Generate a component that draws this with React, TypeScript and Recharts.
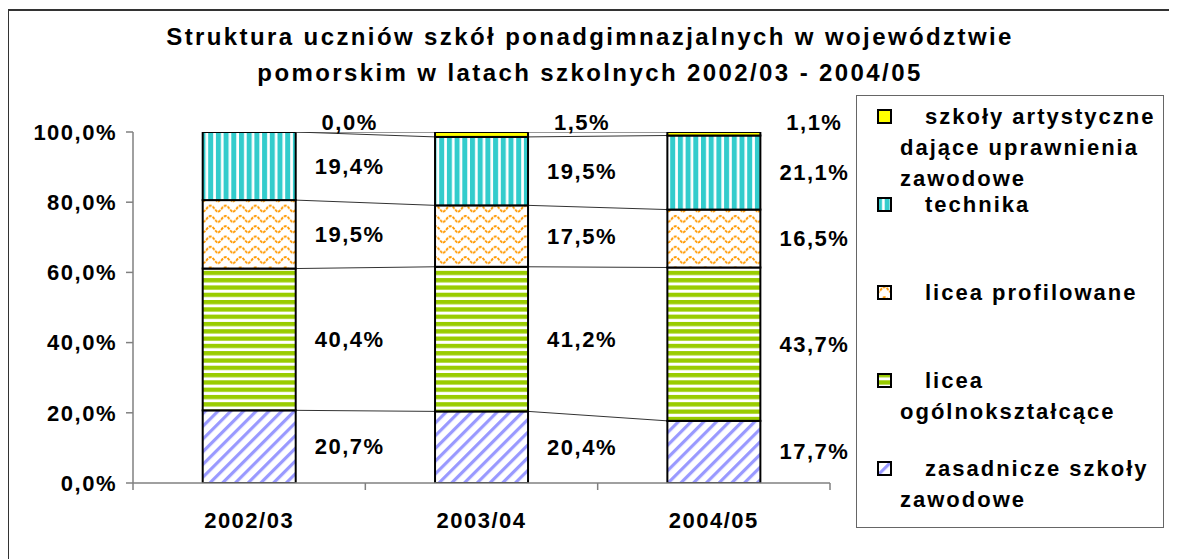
import { Bar, BarChart, LabelList, XAxis, YAxis } from 'recharts';

const YEARS = ['2002/03', '2003/04', '2004/05'];
const ZASADNICZE = [20.7, 20.4, 17.7];
const OGOLNOKSZTALCACE = [40.4, 41.2, 43.7];
const PROFILOWANE = [19.5, 17.5, 16.5];
const TECHNIKA = [19.4, 19.5, 21.1];
const ARTYSTYCZNE = [0.0, 1.5, 1.1];
const Y_TICKS = [0, 20, 40, 60, 80, 100];

const TITLE_LINES = [
  'Struktura uczniów szkół ponadgimnazjalnych w województwie',
  'pomorskim w latach szkolnych 2002/03 - 2004/05',
];

// stacking order, bottom to top; legend lines as wrapped in the original
const SERIES = [
  { key: 'zas', lines: ['zasadnicze szkoły', 'zawodowe'], values: ZASADNICZE, fill: 'url(#pt-zas)' },
  { key: 'ogol', lines: ['licea', 'ogólnokształcące'], values: OGOLNOKSZTALCACE, fill: 'url(#pt-ogol)' },
  { key: 'prof', lines: ['licea profilowane'], values: PROFILOWANE, fill: 'url(#pt-prof)' },
  { key: 'tech', lines: ['technika'], values: TECHNIKA, fill: 'url(#pt-tech)' },
  { key: 'art', lines: ['szkoły artystyczne', 'dające uprawnienia', 'zawodowe'], values: ARTYSTYCZNE, fill: '#ffff00' },
];

const data = YEARS.map((year, i) => {
  const row: Record<string, string | number> = { year };
  SERIES.forEach((s) => (row[s.key] = s.values[i]));
  return row;
});

const cumulative = (k: number, i: number) =>
  SERIES.slice(0, k + 1).reduce((sum, s) => sum + s.values[i], 0);

const FONT = "'Liberation Sans', Arial, sans-serif";
const fmt = (v: number) => v.toFixed(1).replace('.', ',') + '%';

function Patterns() {
  return (
    <svg width={0} height={0} style={{ position: 'absolute' }}>
      <defs>
        <pattern id="pt-zas" width={9} height={9} patternUnits="userSpaceOnUse" patternTransform="rotate(45)">
          <rect width={9} height={9} fill="#fff" />
          <rect width={3.2} height={9} fill="#9999ff" />
        </pattern>
        <pattern id="pt-ogol" width={8} height={7.3} patternUnits="userSpaceOnUse">
          <rect width={8} height={7.3} fill="#fff" />
          <rect width={8} height={4.3} fill="#99cc00" />
        </pattern>
        <pattern id="pt-prof" width={15} height={10.3} patternUnits="userSpaceOnUse">
          <rect width={15} height={10.3} fill="#fff" />
          <path
            d="M0,8 C2.5,8 4.5,2 7.5,2 C10.5,2 12.5,8 15,8"
            fill="none"
            stroke="#ff9900"
            strokeWidth={1.9}
            strokeDasharray="3 1"
          />
        </pattern>
        <pattern id="pt-tech" width={7.7} height={8} patternUnits="userSpaceOnUse">
          <rect width={7.7} height={8} fill="#fff" />
          <rect width={5} height={8} fill="#33cccc" />
        </pattern>
      </defs>
    </svg>
  );
}

function renderSegment(p: any, k: number) {
  const { x, y, width, height, fill, index, background } = p;
  const top = background?.y ?? 124;
  const h = background?.height ?? 351;
  const yOf = (c: number) => top + h * (1 - Math.min(c, 100) / 100);
  const band = width / 0.4;
  const hasNext = index < YEARS.length - 1;
  return (
    <g>
      {height > 0 && (
        <rect x={x} y={y} width={width} height={height} fill={fill} stroke="#000" strokeWidth={2} />
      )}
      {height <= 0 && <line x1={x} x2={x + width} y1={y} y2={y} stroke="#000" strokeWidth={2} />}
      {hasNext && (
        <line
          x1={x + width}
          y1={yOf(cumulative(k, index))}
          x2={x + band}
          y2={yOf(cumulative(k, index + 1))}
          stroke="#333"
          strokeWidth={1}
        />
      )}
    </g>
  );
}

function renderLabel(p: any, isTop: boolean) {
  const vb = p.viewBox ?? p;
  const x = vb.x ?? p.x;
  const y = vb.y ?? p.y;
  const w = vb.width ?? p.width;
  const h = vb.height ?? p.height;
  const cy = isTop ? y - 10 : y + h / 2;
  return (
    <text
      x={x + w + 54}
      y={cy}
      textAnchor="middle"
      dominantBaseline="central"
      fontFamily={FONT}
      fontWeight="bold"
      fontSize={22}
      fill="#000"
      style={{ letterSpacing: 1.5 }}
    >
      {fmt(Number(p.value))}
    </text>
  );
}

function XTick(props: any) {
  const { x, y, payload, index } = props;
  const off = payload?.offset ?? 116;
  return (
    <g>
      <line x1={x + off} x2={x + off} y1={y} y2={y + 7} stroke="#808080" strokeWidth={1.5} />
      {index === 0 && <line x1={x - off} x2={x - off} y1={y} y2={y + 7} stroke="#808080" strokeWidth={1.5} />}
      <text
        x={x}
        y={y + 45}
        textAnchor="middle"
        fontFamily={FONT}
        fontWeight="bold"
        fontSize={22}
        fill="#000"
        style={{ letterSpacing: 1.5 }}
      >
        {payload.value}
      </text>
    </g>
  );
}

function LegendSwatch({ fill }: { fill: string }) {
  return (
    <svg width={15} height={15} style={{ position: 'absolute', left: 0, top: 0 }}>
      <rect x={1} y={1} width={13} height={13} fill={fill} stroke="#000" strokeWidth={2} />
    </svg>
  );
}

function ChartLegend() {
  const items = [...SERIES].reverse();
  return (
    <div
      style={{
        position: 'absolute',
        left: 848,
        top: 87,
        width: 306,
        height: 431,
        border: '1.5px solid #666',
        background: '#fff',
      }}
    >
      {items.map((s, i) => (
        <div key={s.key} style={{ position: 'absolute', left: 0, top: 5 + i * 88, width: 306 }}>
          <div style={{ position: 'absolute', left: 20, top: 8 }}>
            <LegendSwatch fill={s.fill} />
          </div>
          <div
            style={{
              position: 'absolute',
              left: 43,
              top: 0,
              fontFamily: FONT,
              fontWeight: 'bold',
              fontSize: 22,
              lineHeight: '31px',
              letterSpacing: 2,
              color: '#000',
              whiteSpace: 'nowrap',
            }}
          >
            {s.lines.map((line, j) => (
              <div key={j} style={{ paddingLeft: j === 0 ? 25 : 0 }}>
                {line}
              </div>
            ))}
          </div>
        </div>
      ))}
    </div>
  );
}

export default function App() {
  return (
    <div style={{ position: 'relative', width: 1169, height: 551, overflow: 'hidden', background: '#fff' }}>
      <Patterns />
      <div style={{ position: 'absolute', left: 0, top: 1, width: 1169, height: 2, background: '#333' }} />
      <div style={{ position: 'absolute', left: -1, top: 1, width: 2, height: 551, background: '#333' }} />
      <div
        style={{
          position: 'absolute',
          left: 0,
          top: 11,
          width: 1164,
          textAlign: 'center',
          fontFamily: FONT,
          fontWeight: 'bold',
          fontSize: 24,
          lineHeight: '36px',
          letterSpacing: 2.4,
          color: '#000',
        }}
      >
        {TITLE_LINES.map((t) => (
          <div key={t}>{t}</div>
        ))}
      </div>
      <div style={{ position: 'absolute', left: 0, top: 0 }}>
        <BarChart
          width={1169}
          height={551}
          data={data}
          margin={{ top: 124, right: 347, bottom: 26, left: 5 }}
          barCategoryGap="30%"
        >
          <XAxis
            dataKey="year"
            tickLine={false}
            tickSize={0}
            tickMargin={0}
            axisLine={{ stroke: '#808080', strokeWidth: 1.5 }}
            height={50}
            tick={<XTick />}
            interval={0}
          />
          <YAxis
            domain={[0, 100]}
            allowDataOverflow
            ticks={Y_TICKS}
            tickFormatter={fmt}
            width={120}
            tickSize={7}
            tickMargin={9}
            axisLine={{ stroke: '#808080', strokeWidth: 1.5 }}
            tickLine={{ stroke: '#808080', strokeWidth: 1.5 }}
            tick={{ fill: '#000', fontFamily: FONT, fontWeight: 'bold', fontSize: 22, style: { letterSpacing: 1.5 } }}
          />
          {SERIES.map((s, k) => (
            <Bar
              key={s.key}
              dataKey={s.key}
              stackId="a"
              fill={s.fill}
              isAnimationActive={false}
              shape={(p: any) => renderSegment(p, k)}
            >
              <LabelList dataKey={s.key} content={(p: any) => renderLabel(p, k === SERIES.length - 1)} />
            </Bar>
          ))}
        </BarChart>
      </div>
      <ChartLegend />
    </div>
  );
}
